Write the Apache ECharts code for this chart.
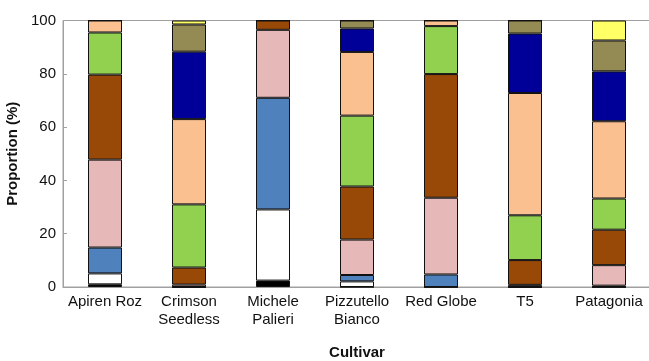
<!DOCTYPE html>
<html>
<head>
<meta charset="utf-8">
<script src="https://cdn.jsdelivr.net/npm/echarts@6/dist/echarts.min.js"></script>
<style>html,body{margin:0;padding:0;background:#fff;}#c{width:649px;height:361px;}</style>
</head>
<body>
<div id="c"></div>
<script>
const categories = ['Apiren Roz', 'Crimson\nSeedless', 'Michele\nPalieri', 'Pizzutello\nBianco', 'Red Globe', 'T5', 'Patagonia'];
const yTicks = [0, 20, 40, 60, 80, 100];
const sBlack    = [1.0, 0,    2.4,  0,    0,    0,    0];
const sWhite    = [4.1, 0,    26.7, 2.1,  0,    0,    0];
const sBlue     = [9.7, 0,    41.9, 2.4,  4.7,  0,    0.5];
const sPink     = [33.0, 0.9, 25.5, 13.3, 28.8, 0.8,  7.7];
const sBrown    = [31.9, 6.4, 3.5,  19.9, 46.4, 9.3,  13.3];
const sGreen    = [15.8, 23.7, 0,   26.6, 18.0, 16.8, 11.7];
const sPeach    = [4.5, 32.0, 0,    23.9, 2.1,  45.9, 29.0];
const sNavy     = [0,   25.3, 0,    8.8,  0,    22.3, 18.7];
const sOlive    = [0,   10.2, 0,    3.0,  0,    4.9,  11.6];
const sYellow   = [0,   1.5,  0,    0,    0,    0,    7.5];

const seriesDefs = [
  ['Black', sBlack, '#000000'],
  ['White', sWhite, '#ffffff'],
  ['Blue', sBlue, '#4f81bd'],
  ['Pink', sPink, '#e6b9b8'],
  ['Brown', sBrown, '#984807'],
  ['Green', sGreen, '#92d050'],
  ['Peach', sPeach, '#fac090'],
  ['Navy', sNavy, '#000099'],
  ['Olive', sOlive, '#948a54'],
  ['Yellow', sYellow, '#ffff66']
];

const chart = echarts.init(document.getElementById('c'), null, {renderer: 'canvas'});
const font = 'Liberation Sans, Arial, sans-serif';
chart.setOption({
  animation: false,
  backgroundColor: '#fff',
  grid: {left: 63, right: -2, top: 20.5, bottom: 74, show: true, borderColor: '#a0a0a0', borderWidth: 1, containLabel: false, outerBoundsMode: 'none'},
  xAxis: {
    type: 'category',
    data: categories,
    name: 'Cultivar',
    nameLocation: 'middle',
    nameGap: 58,
    nameTextStyle: {fontFamily: font, fontSize: 15, fontWeight: 'bold', color: '#111'},
    axisLine: {lineStyle: {color: '#a0a0a0'}},
    axisTick: {show: false},
    axisLabel: {fontFamily: font, fontSize: 15, color: '#111', lineHeight: 18, margin: 6, interval: 0}
  },
  yAxis: {
    type: 'value',
    min: 0, max: 100, interval: 20,
    name: 'Proportion (%)',
    nameLocation: 'middle',
    nameGap: 35,
    nameTextStyle: {fontFamily: font, fontSize: 15, fontWeight: 'bold', color: '#111'},
    axisLine: {show: true, lineStyle: {color: '#a0a0a0'}},
    axisTick: {show: true, inside: true, length: 4, lineStyle: {color: '#a0a0a0'}},
    splitLine: {show: false},
    axisLabel: {fontFamily: font, fontSize: 15, color: '#111', margin: 7,
      formatter: v => yTicks.includes(v) ? String(v) : ''}
  },
  series: seriesDefs.map(([name, data, color]) => ({
    name, type: 'bar', stack: 'total', data,
    barWidth: 34,
    itemStyle: {color, borderColor: '#111', borderWidth: 1}
  }))
});
</script>
</body>
</html>
